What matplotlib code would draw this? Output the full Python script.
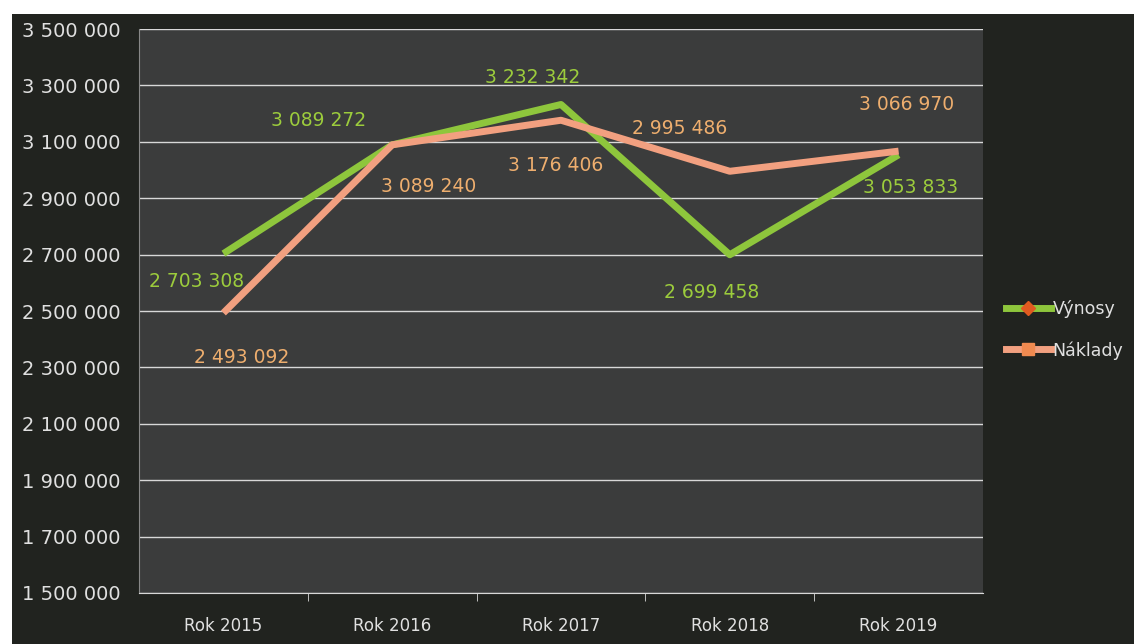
import matplotlib
matplotlib.use("Agg")
import matplotlib.pyplot as plt
from matplotlib.lines import Line2D
from matplotlib.patches import Rectangle
from matplotlib.ticker import FuncFormatter

categories = ["Rok 2015", "Rok 2016", "Rok 2017", "Rok 2018", "Rok 2019"]
vynosy = [2703308, 3089272, 3232342, 2699458, 3053833]
naklady = [2493092, 3089240, 3176406, 2995486, 3066970]
yticks = list(range(1500000, 3500001, 200000))

W, H = 1134, 644
fig = plt.figure(figsize=(W / 100, H / 100), dpi=100, facecolor="#21231f")
# white scan margins (top strip and left strip)
fig.patches.append(Rectangle((0, 1 - 14 / H), 1, 14 / H, transform=fig.transFigure,
                             facecolor="white", edgecolor="none", zorder=-5))
fig.patches.append(Rectangle((0, 0), 12 / W, 1, transform=fig.transFigure,
                             facecolor="white", edgecolor="none", zorder=-5))

ax = fig.add_axes([139 / W, 1 - 593 / H, (983 - 139) / W, (593 - 29) / H])
ax.set_facecolor("#3b3c3c")
x = list(range(len(categories)))

green = "#8ec63c"
salmon = "#f2a080"
ax.plot(x, vynosy, color=green, lw=5, solid_capstyle="butt", zorder=3)
ax.plot(x, naklady, color=salmon, lw=5, solid_capstyle="butt", zorder=4)

ax.set_xlim(-0.5, len(categories) - 0.5)
ax.set_ylim(1500000, 3500000)
ax.set_yticks(yticks)
ax.yaxis.set_major_formatter(FuncFormatter(lambda v, p: f"{int(v):,}".replace(",", " ")))
ax.grid(axis="y", color="#d8d8d8", lw=1)
ax.set_axisbelow(True)
ax.set_xticks(x)
ax.set_xticklabels(categories)
ax.set_xticks([i + 0.5 for i in range(len(categories) - 1)], minor=True)
ax.tick_params(axis="x", which="major", length=0, pad=17, colors="#e0e0e0", labelsize=12)
ax.tick_params(axis="x", which="minor", length=6, color="#d8d8d8", direction="out")
ax.tick_params(axis="y", length=0, pad=13, colors="#e0e0e0", labelsize=14)
for s in ["top", "right"]:
    ax.spines[s].set_visible(False)
ax.spines["bottom"].set_color("#d8d8d8")
ax.spines["left"].set_color("#888888")

lab_green = "#9ccc3c"
lab_orange = "#eeae6e"
green_off = [(-27, -28), (-74, 24), (-28, 27), (-18, -38), (12, -33)]
orange_off = [(18, -45), (36, -42), (-5, -45), (-50, 43), (8, 47)]
for i, (v, o) in enumerate(zip(vynosy, green_off)):
    ax.annotate(f"{v:,}".replace(",", " "), (i, v), xytext=o, textcoords="offset pixels",
                ha="center", va="center", color=lab_green, fontsize=13.5, zorder=6)
for i, (v, o) in enumerate(zip(naklady, orange_off)):
    ax.annotate(f"{v:,}".replace(",", " "), (i, v), xytext=o, textcoords="offset pixels",
                ha="center", va="center", color=lab_orange, fontsize=13.5, zorder=6)

handles = [
    Line2D([], [], color=green, lw=5, marker="D", markersize=7, markerfacecolor="#e05a20",
           markeredgecolor="#e05a20"),
    Line2D([], [], color=salmon, lw=5, marker="s", markersize=9, markerfacecolor="#f08a50",
           markeredgecolor="#f08a50"),
]
fig.legend(handles, ["Výnosy", "Náklady"], loc="center left",
           bbox_to_anchor=(990 / W, 1 - 330 / H), frameon=False, labelcolor="#e0e0e0",
           fontsize=12.5, handlelength=2.6, handletextpad=0.1, labelspacing=1.3)

fig.savefig("out.png", dpi=100, facecolor=fig.get_facecolor())
